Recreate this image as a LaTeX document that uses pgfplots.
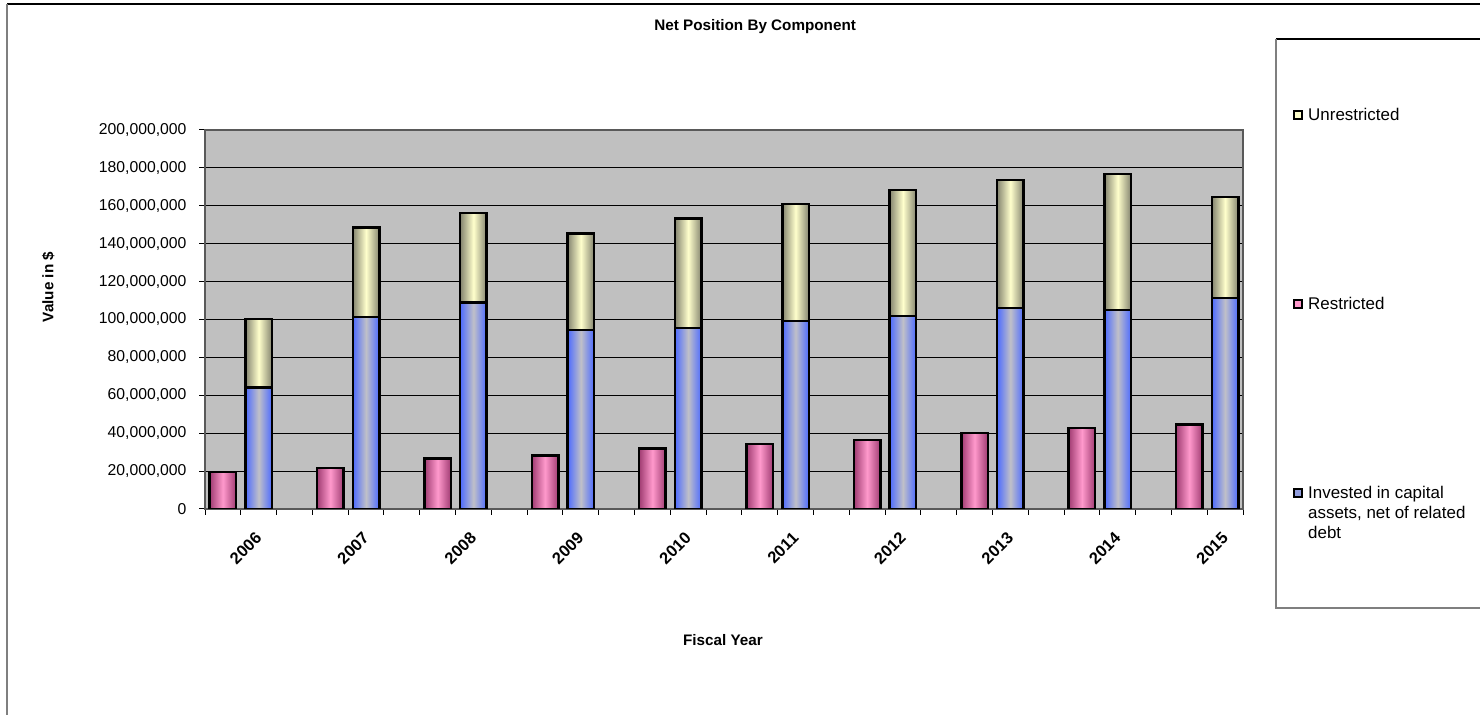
\documentclass[border=0pt]{standalone}
\usepackage{pgfplots}
\pgfplotsset{compat=1.18}
\usepackage{pgfplotstable}
\usepackage{fontspec}
\setmainfont{Liberation Sans}

\definecolor{plotbg}{HTML}{C0C0C0}
\definecolor{framegray}{HTML}{595959}
\definecolor{pinkedge}{HTML}{A03C72}
\definecolor{pinkmid}{HTML}{FF99CC}
\definecolor{blueedge}{HTML}{4D6BFF}
\definecolor{bluemid}{HTML}{C0C0C8}
\definecolor{creamedge}{HTML}{858570}
\definecolor{creammid}{HTML}{FFFFCC}
\definecolor{boxgray}{HTML}{7F7F7F}

% Net position by component, in dollars
\pgfplotstableread{
year restricted invested unrestricted
2006 19600000  64000000 36200000
2007 21700000 101400000 47100000
2008 26600000 109000000 47200000
2009 28200000  94500000 51000000
2010 31900000  95400000 58000000
2011 34400000  99300000 61700000
2012 36500000 101900000 66500000
2013 40000000 106000000 67700000
2014 42700000 104900000 72000000
2015 44600000 111300000 53300000
}\netpos

\newcommand{\chartfont}{\fontsize{15.3}{18}\selectfont}
\newcommand{\tickfont}{\fontsize{15.8}{18}\selectfont}
\newcommand{\yearfont}{\fontsize{16.5}{18}\selectfont}
\newcommand{\legendfont}{\fontsize{17}{20}\selectfont}

\pgfplotsset{
  onebar/.style={ybar, bar width=0.74, bar shift=0pt,
    draw=black, line width=2.5bp,
    restrict expr to domain={\coordindex}{#1:#1}},
  pinkshade/.style={left color=pinkedge, right color=pinkedge, middle color=pinkmid},
  blueshade/.style={left color=blueedge, right color=blueedge, middle color=bluemid},
  creamshade/.style={left color=creamedge, right color=creamedge, middle color=creammid},
}

\begin{document}
\begin{tikzpicture}[x=1bp, y=1bp]
\useasboundingbox (0,0) rectangle (1480,715);

% each year takes three slots: restricted, invested + unrestricted, gap
\begin{axis}[
  scale only axis, width=1038bp, height=379bp,
  at={(205bp,206bp)}, anchor=south west,
  xmin=-0.5, xmax=28.5, ymin=0, ymax=200000000,
  axis background/.style={fill=plotbg},
  axis line style={draw=framegray, line width=2bp},
  ymajorgrids, grid style={black, line width=1bp},
  tick align=outside, major tick length=6bp, minor tick length=6bp,
  tick style={black, line width=1bp},
  tick pos=left,
  xtick={1,4,7,10,13,16,19,22,25,28},
  xticklabels={2006,2007,2008,2009,2010,2011,2012,2013,2014,2015},
  major x tick style={draw=none},
  minor xtick={-0.5,0.5,...,28.5},
  xticklabel style={rotate=45, anchor=north east, font=\yearfont\bfseries,
    xshift=-11bp, yshift=-5bp},
  ytick={0,20000000,40000000,60000000,80000000,100000000,120000000,140000000,160000000,180000000,200000000},
  scaled y ticks=false,
  /pgf/number format/assume math mode=true,
  yticklabel style={/pgf/number format/fixed, /pgf/number format/1000 sep={,},
    font=\tickfont, xshift=-9bp},
  title={Net Position By Component},
  title style={at={(0.53,1.258)}, anchor=center, font=\chartfont\bfseries},
  xlabel={Fiscal Year},
  xlabel style={at={(0.499,-0.346)}, anchor=center, font=\chartfont\bfseries},
  ylabel={Value in \$},
  ylabel style={at={(-0.151,0.586)}, anchor=center, font=\chartfont\bfseries},
]
% one path per bar, so that every bar carries its own shading
\pgfplotsinvokeforeach{0,...,9}{
  % restricted
  \addplot[onebar=#1, pinkshade]
    table[x expr=3*\coordindex, y=restricted]{\netpos};
  % unrestricted, sitting on top of invested
  \addplot[onebar=#1, creamshade]
    table[x expr=3*\coordindex+1, y expr=\thisrow{invested}+\thisrow{unrestricted}]{\netpos};
  % invested in capital assets, net of related debt
  \addplot[onebar=#1, blueshade]
    table[x expr=3*\coordindex+1, y=invested]{\netpos};
}
\end{axis}

% chart frame
\draw[black, line width=1.5bp] (7,711) -- (1481,711);
\draw[boxgray, line width=2bp] (7,711) -- (7,-1);

% legend
\draw[black, line width=1.2bp] (1481,676) -- (1276,676);
\draw[boxgray, line width=1.5bp] (1276,676) -- (1276,107) -- (1481,107);

\draw[black, line width=2bp, fill=creammid] (1294,595.7) rectangle (1302,603.7);
\node[anchor=base west, inner sep=0, font=\legendfont] at (1308,594.3) {Unrestricted};

\draw[black, line width=2bp, fill=pinkmid] (1294,407) rectangle (1302,415);
\node[anchor=base west, inner sep=0, font=\legendfont] at (1308,405.7) {Restricted};

\draw[black, line width=2bp, fill=bluemid!60!blueedge] (1294,218) rectangle (1302,226);
\node[anchor=base west, inner sep=0, font=\legendfont] at (1308,216.7) {Invested in capital};
\node[anchor=base west, inner sep=0, font=\legendfont] at (1308,196.7) {assets, net of related};
\node[anchor=base west, inner sep=0, font=\legendfont] at (1308,176.7) {debt};
\end{tikzpicture}
\end{document}
